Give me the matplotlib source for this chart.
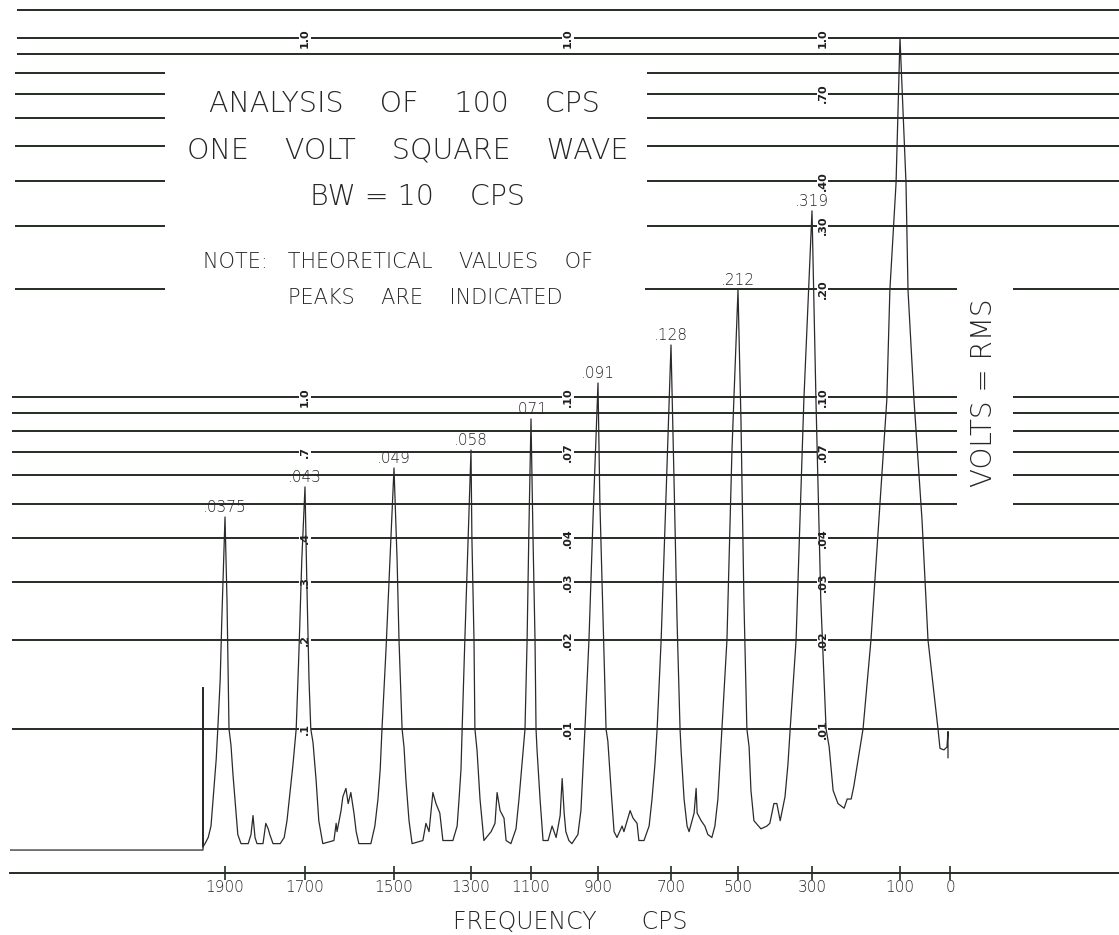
import numpy as np
import matplotlib
matplotlib.use('Agg')
import matplotlib.pyplot as plt

W, H = 1119, 935

# harmonics of the 100 cps square wave and the theoretical peak values written on the chart
harm_f = [1900, 1700, 1500, 1300, 1100, 900, 700, 500, 300]
theory_lbl = ['.0375', '.043', '.049', '.058', '.071', '.091', '.128', '.212', '.319']

tick_f = [1900, 1700, 1500, 1300, 1100, 900, 700, 500, 300, 100, 0]
tick_lbl = ['1900', '1700', '1500', '1300', '1100', '900', '700', '500', '300', '100', '0']

# recorder trace (frequency cps, volts rms) left to right
trace_f = [2437, 1955, 1955, 1955,
           1950, 1942, 1935, 1928, 1922, 1918, 1912, 1908, 1900, 1895, 1892, 1890, 1885, 1880,
           1872, 1868, 1860, 1842, 1835, 1830, 1825, 1820, 1805, 1798, 1792, 1788, 1780, 1762,
           1752, 1745, 1738, 1730,
           1722, 1715, 1708, 1700, 1696, 1691, 1687, 1682, 1675, 1669, 1660, 1635, 1630, 1628,
           1619, 1615, 1608, 1603, 1597, 1590, 1585, 1579, 1552, 1543, 1536, 1531,
           1527, 1518, 1509, 1500, 1492, 1487, 1479, 1474, 1469, 1461, 1453, 1425, 1417, 1409,
           1399, 1391, 1381, 1373, 1347, 1336, 1331, 1326,
           1323, 1316, 1308, 1300, 1297, 1290, 1287, 1280, 1270, 1257, 1233, 1220, 1213, 1203,
           1190, 1183, 1167, 1150, 1140, 1130,
           1120, 1113, 1107, 1100, 1094, 1088, 1085, 1082, 1073, 1064, 1049, 1037, 1025, 1013,
           1007, 1001, 996, 987, 978, 960, 951, 945,
           939, 927, 915, 900, 895, 886, 878, 873, 864, 856, 848, 834, 829, 812, 804, 793, 788,
           774, 760, 752, 744,
           738, 727, 714, 700, 691, 682, 673, 670, 661, 652, 646, 631, 625, 622, 610, 599, 590,
           578, 569, 560, 554,
           548, 533, 518, 500, 492, 484, 476, 470, 465, 457, 438, 422, 414, 403, 395, 386, 373,
           365,
           359, 343, 322, 300, 291, 280, 268, 261, 252, 241, 227, 220, 211, 205, 195,
           184, 166, 145, 130, 123, 109, 100, 88, 84, 72, 56, 44, 24, 20, 12, 6, 4, 4]
trace_v = [0.0039, 0.0039, 0.0138, 0.0040,
           0.0041, 0.0043, 0.0047, 0.0062, 0.0079, 0.0100, 0.0147, 0.0230, 0.0458, 0.0264, 0.0147, 0.0100, 0.0088, 0.0070,
           0.0051, 0.0044, 0.0041, 0.0041, 0.0044, 0.0051, 0.0043, 0.0041, 0.0041, 0.0048, 0.0046, 0.0044, 0.0041, 0.0041,
           0.0043, 0.0049, 0.0060, 0.0076,
           0.0100, 0.0185, 0.0347, 0.0557, 0.0304, 0.0147, 0.0100, 0.0090, 0.0067, 0.0049, 0.0041, 0.0042, 0.0048, 0.0045,
           0.0053, 0.0059, 0.0063, 0.0056, 0.0061, 0.0052, 0.0045, 0.0041, 0.0041, 0.0047, 0.0058, 0.0073,
           0.0100, 0.0185, 0.0347, 0.0630, 0.0347, 0.0200, 0.0100, 0.0087, 0.0067, 0.0049, 0.0041, 0.0042, 0.0048, 0.0045,
           0.0061, 0.0056, 0.0052, 0.0042, 0.0042, 0.0047, 0.0058, 0.0073,
           0.0100, 0.0200, 0.0382, 0.0708, 0.0400, 0.0200, 0.0100, 0.0085, 0.0058, 0.0042, 0.0045, 0.0048, 0.0061, 0.0053,
           0.0050, 0.0042, 0.0041, 0.0046, 0.0058, 0.0076,
           0.0100, 0.0200, 0.0421, 0.0867, 0.0400, 0.0200, 0.0100, 0.0085, 0.0058, 0.0042, 0.0042, 0.0047, 0.0043, 0.0051,
           0.0068, 0.0052, 0.0045, 0.0042, 0.0041, 0.0044, 0.0053, 0.0073,
           0.0100, 0.0200, 0.0450, 0.1094, 0.0512, 0.0230, 0.0100, 0.0091, 0.0062, 0.0045, 0.0043, 0.0047, 0.0045, 0.0053, 0.0050, 0.0048, 0.0042,
           0.0042, 0.0047, 0.0058, 0.0076,
           0.0100, 0.0200, 0.0512, 0.1396, 0.0584, 0.0230, 0.0100, 0.0085, 0.0058, 0.0047, 0.0045, 0.0052, 0.0063, 0.0052, 0.0049, 0.0047, 0.0044,
           0.0043, 0.0047, 0.0058, 0.0076,
           0.0100, 0.0200, 0.0708, 0.1986, 0.0861, 0.0264, 0.0100, 0.0087, 0.0062, 0.0049, 0.0046, 0.0047, 0.0048, 0.0056, 0.0056, 0.0049, 0.0059,
           0.0076,
           0.0100, 0.0200, 0.0980, 0.3300, 0.0980, 0.0264, 0.0100, 0.0087, 0.0062, 0.0056, 0.0054, 0.0058, 0.0058, 0.0064, 0.0079,
           0.0100, 0.0200, 0.0512, 0.0980, 0.1986, 0.3940, 1.0000, 0.3940, 0.1986, 0.0980, 0.0450, 0.0200, 0.0100, 0.0086, 0.0085, 0.0087, 0.0098, 0.0080]

# chart paper lines (volts)
grid_top = [1.2, 1.0, 0.9]
grid_upper = [0.8, 0.7, 0.6, 0.5, 0.4, 0.3]
grid_02 = [0.2]
grid_mid = [0.1, 0.09, 0.08, 0.07, 0.06, 0.05]
grid_low = [0.04, 0.03, 0.02, 0.01]

# scale figures printed on the paper, three columns
marks_a = [(1.0, '1.0'), (0.1, '1.0'), (0.07, '.7'), (0.04, '.4'), (0.03, '.3'), (0.02, '.2'), (0.01, '.1')]
marks_b = [(1.0, '1.0'), (0.1, '.10'), (0.07, '.07'), (0.04, '.04'), (0.03, '.03'), (0.02, '.02'), (0.01, '.01')]
marks_c = [(1.0, '1.0'), (0.7, '.70'), (0.4, '.40'), (0.3, '.30'), (0.2, '.20'), (0.1, '.10'),
           (0.07, '.07'), (0.04, '.04'), (0.03, '.03'), (0.02, '.02'), (0.01, '.01')]

# the recorder paper is not a clean log scale -> calibrate it (depth on sheet, px)
cal_logv = [-4, -2, np.log10(0.02), np.log10(0.03), -1, 0, 1]
cal_depth = [1321, 729, 640, 582, 397, 38, -321]
# frequency sweep is not linear either
cal_f = [-400, 0, 100, 300, 500, 700, 900, 1100, 1300, 1500, 1700, 1900, 2600]
cal_x = [1150, 950, 900, 812, 738, 671, 598, 531, 471, 394, 305, 225, -55]


def y_fwd(v):
    v = np.clip(np.asarray(v, dtype=float), 1e-6, None)
    return -np.interp(np.log10(v), cal_logv, cal_depth)


def y_inv(d):
    return 10 ** np.interp(-np.asarray(d, dtype=float), cal_depth[::-1], cal_logv[::-1])


def x_fwd(f):
    return -np.interp(np.asarray(f, dtype=float), cal_f, cal_x)


def x_inv(p):
    return np.interp(-np.asarray(p, dtype=float), cal_x[::-1], cal_f[::-1])


INK = '#242c24'
TXT = '#262626'
plt.rcParams['font.family'] = ['DejaVu Sans']

fig = plt.figure(figsize=(W / 100, H / 100), dpi=100)
fig.patch.set_facecolor('white')
ax_bottom = 873
ax = fig.add_axes([10 / W, (H - ax_bottom) / H, (W - 10) / W, ax_bottom / H])
ax.set_xscale('function', functions=(x_fwd, x_inv))
ax.set_yscale('function', functions=(y_fwd, y_inv))
ax.set_xlim(float(x_inv(-10)), float(x_inv(-W)))
ax.set_ylim(float(y_inv(-ax_bottom)), float(y_inv(0)))

# grid lines of the chart paper
f_far = -500
ax.hlines(grid_top, 2420, f_far, color=INK, lw=1.4, zorder=1)
ax.hlines(grid_upper, 2425, 2050, color=INK, lw=1.4, zorder=1)
ax.hlines(grid_upper, 766, f_far, color=INK, lw=1.4, zorder=1)
ax.hlines(grid_02, 2425, 2050, color=INK, lw=1.4, zorder=1)
ax.hlines(grid_02, 771, -14, color=INK, lw=1.4, zorder=1)
ax.hlines(grid_02, -126, f_far, color=INK, lw=1.4, zorder=1)
ax.hlines(grid_mid, 2432, -14, color=INK, lw=1.4, zorder=1)
ax.hlines(grid_mid, -126, f_far, color=INK, lw=1.4, zorder=1)
ax.hlines(grid_low, 2432, f_far, color=INK, lw=1.4, zorder=1)

for col_f, marks in [(1700, marks_a), (990, marks_b), (276, marks_c)]:
    for v, t in marks:
        ax.text(col_f, v, t, rotation=90, ha='center', va='center', fontsize=8,
                fontweight='bold', color='#1e1e1e',
                bbox=dict(fc='white', ec='none', pad=0.6), zorder=2)

# the recorder trace
ax.plot(trace_f, trace_v, color='#2a2a2a', lw=0.9, zorder=3)

# theoretical peak values over each harmonic
tf = np.array(trace_f)
tv = np.array(trace_v)
for f, lbl in zip(harm_f, theory_lbl):
    vtip = tv[np.abs(tf - f) < 3].max()
    ax.annotate(lbl, xy=(f, vtip), xytext=(0, 1.5), textcoords='offset points',
                ha='center', va='bottom', fontsize=11, color=TXT, fontweight='light')

# frequency axis
for s in ['top', 'left', 'right']:
    ax.spines[s].set_visible(False)
ax.spines['bottom'].set_color(INK)
ax.spines['bottom'].set_linewidth(1.4)
ax.set_xticks(tick_f)
ax.set_xticklabels(tick_lbl)
ax.xaxis.set_minor_locator(matplotlib.ticker.NullLocator())
ax.tick_params(axis='x', direction='inout', length=10, width=1.2, color=INK,
               labelsize=11, labelcolor=TXT, pad=0)
for lab in ax.get_xticklabels():
    lab.set_fontweight('light')
ax.set_yticks([])
ax.yaxis.set_minor_locator(matplotlib.ticker.NullLocator())
ax.patch.set_alpha(0)


def ftxt(x, y, s, size, **kw):
    fig.text(x / W, 1 - y / H, s, fontsize=size, color=TXT, ha='center', va='center',
             fontweight='light', **kw)


ftxt(404, 104, 'ANALYSIS    OF    100    CPS', 20.5)
ftxt(408, 150, 'ONE    VOLT    SQUARE    WAVE', 20.5)
ftxt(417, 197, 'BW = 10    CPS', 20.5)
ftxt(398, 262, 'NOTE:   THEORETICAL    VALUES    OF', 15)
ftxt(425, 298, 'PEAKS    ARE    INDICATED', 15)
ftxt(984, 393, 'VOLTS = RMS', 20, rotation=90)
ftxt(570, 922, 'FREQUENCY      CPS', 17)

fig.savefig('out.png', dpi=100, facecolor='white')
